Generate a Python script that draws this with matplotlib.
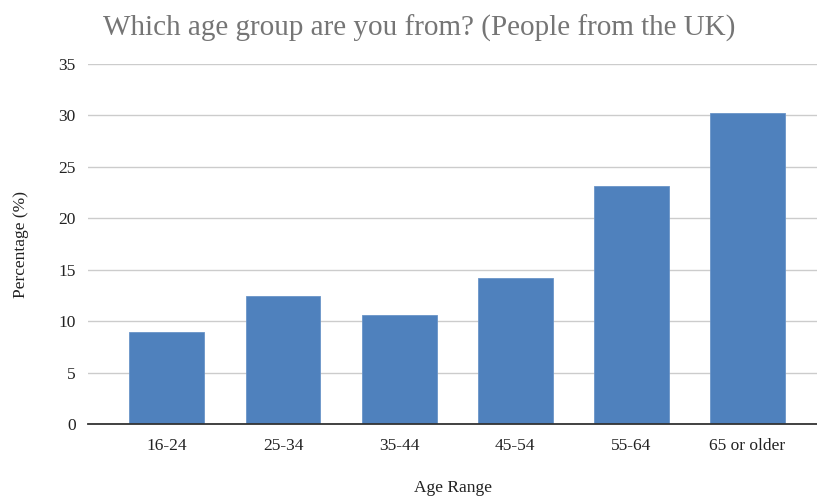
import matplotlib
matplotlib.use("Agg")
import matplotlib.pyplot as plt

# Survey responses by age group (UK respondents)
age_groups = ["16-24", "25-34", "35-44", "45-54", "55-64", "65 or older"]
percentages = [8.9, 12.4, 10.6, 14.2, 23.1, 30.2]
y_ticks = [0, 5, 10, 15, 20, 25, 30, 35]

plt.rcParams["font.family"] = ["Liberation Serif", "DejaVu Serif"]

fig = plt.figure(figsize=(8.17, 4.98), dpi=100)
ax = fig.add_axes([88 / 817, 74 / 498, 1 - 88 / 817, 360 / 498])

x = list(range(len(age_groups)))
ax.bar(x, percentages, width=0.645, color="#4f81bd", edgecolor="#6a94c8",
       linewidth=0.6, zorder=3)

ax.set_ylim(0, 35)
ax.set_xlim(-0.68, 5.60)
ax.set_yticks(y_ticks)
ax.set_xticks(x)
ax.set_xticklabels(age_groups)
ax.tick_params(axis="both", length=0, labelsize=12.5, colors="#222222")
ax.tick_params(axis="x", pad=10)
ax.tick_params(axis="y", pad=9)

ax.grid(axis="y", color="#cccccc", linewidth=1.0, zorder=0)
for side in ["top", "right", "left"]:
    ax.spines[side].set_visible(False)
ax.spines["bottom"].set_color("#333333")
ax.spines["bottom"].set_linewidth(1.3)
ax.spines["bottom"].set_zorder(4)

ax.set_xlabel("Age Range", fontsize=12.5, color="#222222", labelpad=19)
ax.set_ylabel("Percentage (%)", fontsize=12.5, color="#222222", labelpad=21)

fig.text(419 / 817, 1 - 28 / 498, "Which age group are you from? (People from the UK)",
         ha="center", va="center", fontsize=21, color="#757575")

fig.savefig("out.png", dpi=100)
